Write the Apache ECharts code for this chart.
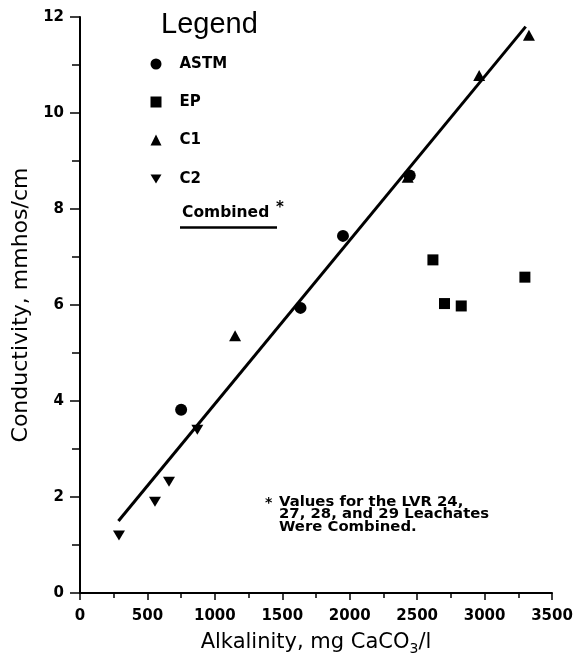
<!DOCTYPE html>
<html><head><meta charset="utf-8">
<script src="https://cdn.jsdelivr.net/npm/echarts@6/dist/echarts.min.js"></script>
<style>html,body{margin:0;padding:0;background:#fff}#c{width:574px;height:658px}</style>
</head><body><div id="c"></div>
<script>
// Data
const astm = [[750, 3.82], [1635, 5.94], [1950, 7.44], [2445, 8.70]];
const ep = [[2617, 6.94], [2703, 6.03], [2827, 5.98], [3299, 6.58]];
const c1 = [[1150, 5.36], [2430, 8.66], [2960, 10.78], [3329, 11.62]];
const c2 = [[289, 1.20], [556, 1.90], [660, 2.32], [870, 3.40]];
const combinedLine = [[285, 1.50], [3305, 11.80]];
const xTicks = [0, 500, 1000, 1500, 2000, 2500, 3000, 3500];
const yTicks = [0, 2, 4, 6, 8, 10, 12];
const noteLines = ['Values for the LVR 24,', '27, 28, and 29 Leachates', 'Were Combined.'];

const FONT = '"DejaVu Sans", "Liberation Sans", sans-serif';
const chart = echarts.init(document.getElementById('c'), null, {renderer: 'canvas'});
const downTri = 'path://M0,0 L12,0 L6,10 Z';

function legendAt(name, iconCenterY, icon) {
  return {
    data: [name], left: 145.5, top: iconCenterY - 5 - 5.5, orient: 'vertical', icon: icon,
    itemWidth: 11, itemHeight: 11, itemGap: 0, selectedMode: false,
    textStyle: {fontFamily: FONT, fontWeight: 'bold', fontSize: 15, color: '#000', padding: [4, 0, 0, 13]}
  };
}
function txt(x, y, s, size, weight, extra) {
  return Object.assign({type: 'text', x: x, y: y,
    style: {text: s, fontFamily: FONT, fontSize: size, fontWeight: weight, fill: '#000', verticalAlign: 'middle', align: 'left'}}, extra || {});
}

const option = {
  backgroundColor: '#fff',
  animation: false,
  grid: {left: 80, right: 22, top: 17, bottom: 65, containLabel: false, outerBoundsMode: 'none'},
  xAxis: {
    type: 'value', min: xTicks[0], max: xTicks[xTicks.length - 1], interval: 500,
    axisLine: {show: true, lineStyle: {color: '#000', width: 2}},
    axisTick: {show: true, length: 7, lineStyle: {color: '#000', width: 1.5}},
    minorTick: {show: true, splitNumber: 2, length: 5, lineStyle: {color: '#000', width: 1.5}},
    splitLine: {show: false},
    axisLabel: {color: '#000', fontFamily: FONT, fontWeight: 'bold', fontSize: 15, margin: 16, formatter: v => String(v)},
    name: 'Alkalinity, mg CaCO{sub|3}/l', nameLocation: 'middle', nameGap: 37,
    nameTextStyle: {color: '#000', fontFamily: FONT, fontSize: 21, fontWeight: 'normal',
      rich: {sub: {fontFamily: FONT, fontSize: 14, color: '#000', verticalAlign: 'bottom', padding: [12, 0, 0, 0]}}}
  },
  yAxis: {
    type: 'value', min: yTicks[0], max: yTicks[yTicks.length - 1], interval: 2,
    axisLine: {show: true, lineStyle: {color: '#000', width: 2}},
    axisTick: {show: true, length: 10, lineStyle: {color: '#000', width: 1.5}},
    minorTick: {show: true, splitNumber: 2, length: 8, lineStyle: {color: '#000', width: 1.5}},
    splitLine: {show: false},
    axisLabel: {color: '#000', fontFamily: FONT, fontWeight: 'bold', fontSize: 15, margin: 16, formatter: v => String(v)},
    name: 'Conductivity, mmhos/cm', nameLocation: 'middle', nameGap: 48, nameRotate: 90,
    nameTextStyle: {color: '#000', fontFamily: FONT, fontSize: 22, fontWeight: 'normal'}
  },
  legend: [
    legendAt('ASTM', 62, 'circle'),
    legendAt('EP', 100, 'rect'),
    legendAt('C1', 138, 'triangle'),
    legendAt('C2', 177, downTri)
  ],
  graphic: [
    txt(161, 25, 'Legend', 29, 'normal', {style: {text: 'Legend', fontFamily: '"Liberation Sans", sans-serif', fontSize: 29, fill: '#000', verticalAlign: 'middle', align: 'left'}}),
    txt(182, 213, 'Combined', 15.5, 'bold'),
    txt(276, 208, '*', 15, 'bold'),
    {type: 'line', shape: {x1: 180, y1: 227.5, x2: 277, y2: 227.5}, style: {stroke: '#000', lineWidth: 2.5}},
    txt(265, 503, '*', 14, 'bold'),
    txt(279, 502, noteLines[0], 13.5, 'bold', {scaleX: 1.1}),
    txt(279, 514.5, noteLines[1], 13.5, 'bold', {scaleX: 1.1}),
    txt(279, 527, noteLines[2], 13.5, 'bold', {scaleX: 1.1})
  ],
  series: [
    {name: 'Combined', type: 'line', data: combinedLine, symbol: 'none', lineStyle: {color: '#000', width: 3}, z: 1},
    {name: 'ASTM', type: 'scatter', data: astm, symbol: 'circle', symbolSize: 12, itemStyle: {color: '#000', opacity: 1}, z: 3},
    {name: 'EP', type: 'scatter', data: ep, symbol: 'rect', symbolSize: 11, itemStyle: {color: '#000', opacity: 1}, z: 3},
    {name: 'C1', type: 'scatter', data: c1, symbol: 'triangle', symbolSize: [12, 11], itemStyle: {color: '#000', opacity: 1}, z: 3},
    {name: 'C2', type: 'scatter', data: c2, symbol: downTri, symbolSize: [12, 10], itemStyle: {color: '#000', opacity: 1}, z: 3}
  ]
};
chart.setOption(option);
</script></body></html>
